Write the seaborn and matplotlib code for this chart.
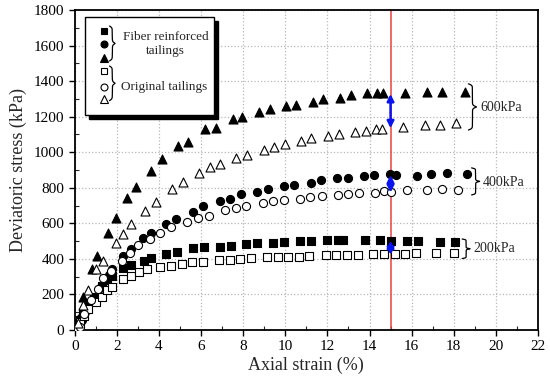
import numpy as np
import seaborn as sns
import matplotlib.pyplot as plt
from matplotlib.patches import Rectangle
from matplotlib.ticker import MultipleLocator

# fiber reinforced tailings (filled markers)
f600_x = [0.15, 0.4, 0.8, 1.06, 1.58, 1.95, 2.5, 2.9, 3.6, 4.15, 4.9, 5.4, 6.2, 6.7, 7.5, 7.95, 8.75, 9.25,
          10.05, 10.5, 11.3, 11.8, 12.6, 13.1, 13.9, 14.35, 14.65, 15.7, 16.75, 17.45, 18.55]
f600_y = [60, 187, 341, 416, 544, 632, 745, 805, 895, 964, 1033, 1059, 1129, 1138, 1185, 1196, 1224, 1243,
          1260, 1268, 1285, 1297, 1307, 1320, 1331, 1331, 1331, 1331, 1341, 1341, 1341]
f400_x = [0.2, 0.32, 0.48, 0.63, 0.9, 1.19, 1.47, 1.63, 1.79, 2.3, 2.69, 3.25, 3.61, 4.35, 4.83, 5.6, 6.1,
          6.89, 7.38, 7.9, 8.66, 9.16, 9.92, 10.42, 11.2, 11.7, 12.46, 12.97, 13.73, 14.22, 14.96, 15.25,
          16.26, 16.9, 17.66, 18.61]
f400_y = [22, 56, 103, 141, 178, 234, 285, 309, 341, 416, 454, 516, 544, 596, 624, 662, 696,
          727, 736, 765, 778, 792, 811, 816, 827, 844, 853, 857, 866, 870, 877, 874,
          868, 877, 885, 877]
f200_x = [0.08, 0.24, 0.4, 0.55, 0.9, 1.3, 1.53, 1.79, 2.3, 2.69, 3.28, 3.64, 4.35, 4.86, 5.62, 6.13, 6.89,
          7.4, 8.15, 8.66, 9.42, 9.94, 10.7, 11.2, 11.99, 12.48, 12.75, 13.78, 14.52, 15.04, 15.79, 16.31,
          17.34, 18.08]
f200_y = [19, 56, 94, 131, 187, 247, 281, 304, 347, 366, 390, 403, 427, 441, 459, 469, 469,
          472, 482, 487, 491, 497, 500, 502, 506, 506, 508, 505, 505, 500, 498, 502,
          495, 493]

# original tailings (open markers)
o600_x = [0.15, 0.4, 0.63, 1.03, 1.35, 1.95, 2.3, 2.69, 3.33, 3.85, 4.62, 5.15, 5.91, 6.41, 6.92, 7.68, 8.19,
          8.98, 9.47, 9.97, 10.74, 11.24, 12.03, 12.53, 13.3, 13.81, 14.31, 14.58, 15.6, 16.63, 17.37, 18.13]
o600_y = [40, 143, 227, 341, 388, 492, 542, 599, 670, 718, 791, 832, 881, 915, 935, 967, 984,
          1010, 1027, 1045, 1065, 1078, 1091, 1102, 1114, 1121, 1129, 1132, 1144, 1153, 1153, 1162]
o400_x = [0.24, 0.45, 0.79, 1.1, 1.35, 1.7, 2.22, 2.61, 3.01, 3.56, 4.07, 4.59, 5.35, 5.86, 6.38, 7.13, 7.65,
          8.15, 8.92, 9.42, 9.93, 10.69, 11.18, 11.72, 12.48, 12.98, 13.49, 14.25, 14.68, 15.04, 15.76,
          16.74, 17.45, 18.21]
o400_y = [19, 90, 169, 230, 291, 330, 390, 431, 478, 514, 544, 577, 606, 628, 643, 675, 688,
          699, 716, 726, 733, 736, 746, 754, 759, 765, 769, 773, 784, 778, 787,
          787, 793, 787]
o200_x = [0.1, 0.25, 0.45, 0.65, 1.0, 1.3, 1.53, 1.79, 2.3, 2.66, 3.06, 3.44, 4.07, 4.59, 5.1, 5.59, 6.1,
          6.86, 7.36, 7.87, 8.39, 9.14, 9.63, 10.13, 10.65, 11.13, 11.91, 12.4, 12.91, 13.43, 14.19, 14.68,
          15.2, 15.71, 16.2, 17.18, 18.0]
o200_y = [10, 45, 78, 120, 155, 187, 225, 240, 285, 304, 324, 341, 353, 360, 371, 382, 382,
          394, 394, 398, 403, 410, 410, 410, 412, 417, 422, 422, 422, 422, 425, 425,
          425, 425, 431, 431, 431]

# stress gap arrows at 15 % strain: (top, bottom)
gap_strain = 15
gaps = [(1328, 1135), (872, 773), (503, 423)]
# braces on the right: (x, bottom, top, label y)
pressure_labels = ['600kPa', '400kPa', '200kPa']
brace_spans = [(18.7, 1125, 1385, 1250), (18.85, 760, 912, 832), (18.4, 402, 512, 457)]

sns.set_style('ticks')
plt.rcParams['font.family'] = ['Liberation Serif', 'DejaVu Serif']


def brace(ax, x, y0, y1, w, transform=None, k=60):
    s = np.linspace(0, 0.5, 120)
    half = 1 / (1 + np.exp(-k * (s - s[0]))) + 1 / (1 + np.exp(-k * (s - s[-1])))
    half = (half - half[0]) / (half[-1] - half[0])
    xs = x + w * np.concatenate([half, half[::-1]])
    ys = np.linspace(y0, y1, len(xs))
    kw = {} if transform is None else {'transform': transform}
    return ax.plot(xs, ys, color='black', lw=0.9, **kw)[0]


fig = plt.figure(figsize=(5.5, 3.86), dpi=100)
ax = fig.add_axes([0.136, 0.145, 0.842, 0.829])

series = [
    (f200_x, f200_y, 's', 'black', 26),
    (f400_x, f400_y, 'o', 'black', 34),
    (f600_x, f600_y, '^', 'black', 42),
    (o200_x, o200_y, 's', 'white', 26),
    (o400_x, o400_y, 'o', 'white', 34),
    (o600_x, o600_y, '^', 'white', 42),
]
for xs, ys, mk, fc, size in series:
    sns.scatterplot(x=xs, y=ys, marker=mk, color=fc, edgecolor='black', linewidth=0.8,
                    s=size, ax=ax, zorder=3)

ax.axvline(gap_strain, color='#e8413f', lw=1.1, zorder=2)
for top, bot in gaps:
    ax.annotate('', xy=(gap_strain, top), xytext=(gap_strain, bot),
                arrowprops=dict(arrowstyle='<|-|>', color='#0a14f0', lw=1.8,
                                mutation_scale=10, shrinkA=0, shrinkB=0), zorder=4)

for (bx, b0, b1, ly), lab in zip(brace_spans, pressure_labels):
    brace(ax, bx, b0, b1, 0.38)
    ax.text(bx + 0.55, ly, lab, fontsize=10, va='center', ha='left')

ax.set_xlim(0, 22)
ax.set_ylim(0, 1800)
ax.xaxis.set_major_locator(MultipleLocator(2))
ax.xaxis.set_minor_locator(MultipleLocator(1))
ax.yaxis.set_major_locator(MultipleLocator(200))
ax.yaxis.set_minor_locator(MultipleLocator(100))
ax.tick_params(which='major', direction='out', length=4, width=1, labelsize=11, colors='black')
ax.tick_params(which='minor', direction='in', length=3, width=0.8)
ax.grid(True, which='major', color='#b8b8b8', ls=':', lw=0.9)
for sp in ax.spines.values():
    sp.set_visible(True)
    sp.set_linewidth(1.3)
    sp.set_color('black')
ax.set_xlabel('Axial strain (%)', fontsize=13, labelpad=2)
ax.set_ylabel('Deviatoric stress (kPa)', fontsize=13, labelpad=5)

# hand-made legend box with shadow
tr = ax.transAxes
ax.add_patch(Rectangle((0.031, 0.66), 0.279, 0.306, transform=tr, facecolor='black',
                       edgecolor='black', zorder=5))
ax.add_patch(Rectangle((0.022, 0.672), 0.279, 0.306, transform=tr, facecolor='white',
                       edgecolor='black', lw=1.0, zorder=6))
leg_y = [0.935, 0.893, 0.849, 0.809, 0.758, 0.721]
leg_mk = ['s', 'o', '^', 's', 'o', '^']
leg_fc = ['black'] * 3 + ['white'] * 3
leg_ms = [4.3, 5.0, 5.5, 4.3, 5.0, 5.5]
for yy, mk, fc, ms in zip(leg_y, leg_mk, leg_fc, leg_ms):
    ax.plot([0.062], [yy], marker=mk, ms=ms, mfc=fc, mec='black', mew=0.8, transform=tr,
            zorder=7, clip_on=False)
brace(ax, 0.075, 0.841, 0.95, 0.012, transform=tr, k=40).set_zorder(7)
brace(ax, 0.075, 0.717, 0.825, 0.012, transform=tr, k=40).set_zorder(7)
ax.text(0.196, 0.893, 'Fiber reinforced\ntailings', transform=tr, fontsize=9.5, ha='center',
        va='center', linespacing=1.25, zorder=7)
ax.text(0.099, 0.76, 'Original tailings', transform=tr, fontsize=9.5, ha='left', va='center', zorder=7)

fig.savefig('out.png', dpi=100)
